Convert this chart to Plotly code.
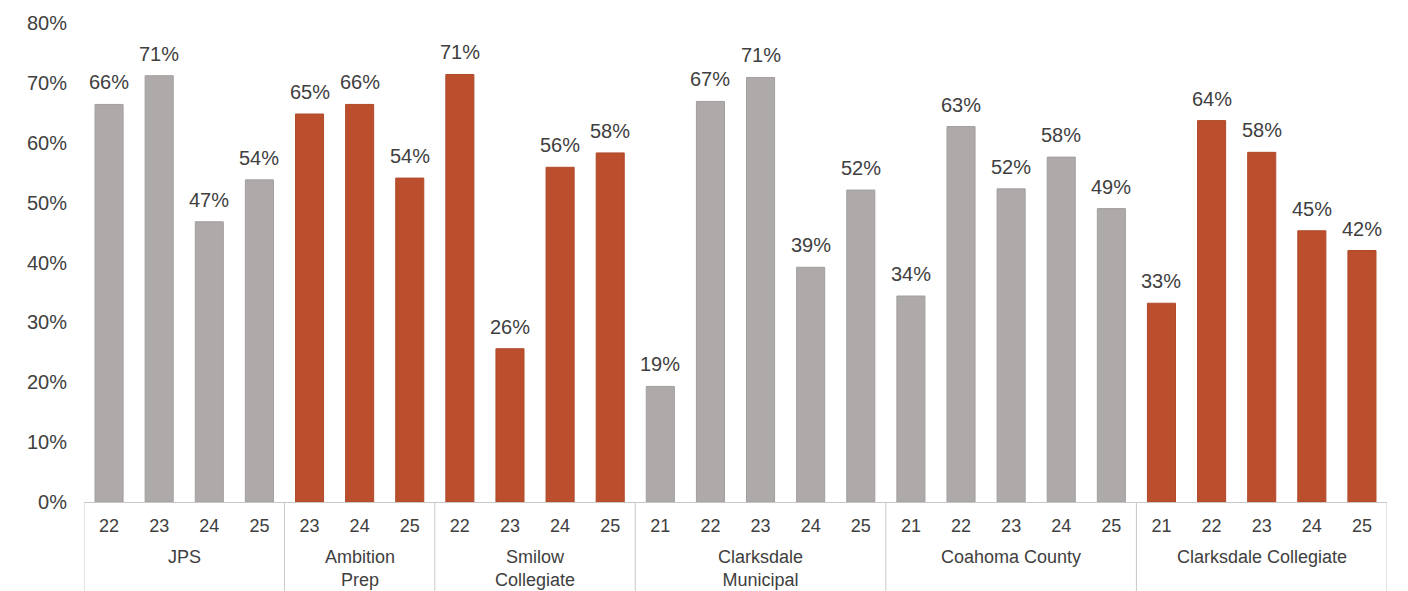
import plotly.graph_objects as go

# ---- data ----
groups = ["JPS", "Ambition<br>Prep", "Smilow<br>Collegiate", "Clarksdale<br>Municipal",
          "Coahoma County", "Clarksdale Collegiate"]
group_years = [
    ["22", "23", "24", "25"],
    ["23", "24", "25"],
    ["22", "23", "24", "25"],
    ["21", "22", "23", "24", "25"],
    ["21", "22", "23", "24", "25"],
    ["21", "22", "23", "24", "25"],
]
group_values = [
    [0.664, 0.712, 0.468, 0.538],
    [0.648, 0.664, 0.541],
    [0.714, 0.256, 0.559, 0.583],
    [0.193, 0.669, 0.709, 0.392, 0.521],
    [0.344, 0.627, 0.523, 0.576, 0.490],
    [0.332, 0.637, 0.584, 0.453, 0.420],
]
group_highlight = [False, True, True, False, False, True]

GRAY = "#AEAAAA"
GRAY_LINE = "#A29E9E"
ORANGE = "#BA4E2D"
ORANGE_LINE = "#B04A2A"
TEXT = "#404040"
AXIS = "#C8C8C8"
FONT = "Liberation Sans, Arial, sans-serif"

# flatten
xs, ys, ticktext, colors, lcolors = [], [], [], [], []
bounds = [-0.5]
i = 0
for g, yrs, vals, hl in zip(groups, group_years, group_values, group_highlight):
    for yr, v in zip(yrs, vals):
        xs.append(i)
        ys.append(v)
        ticktext.append(yr)
        colors.append(ORANGE if hl else GRAY)
        lcolors.append(ORANGE_LINE if hl else GRAY_LINE)
        i += 1
    bounds.append(i - 0.5)

fig = go.Figure()
fig.add_trace(go.Bar(
    x=xs, y=ys,
    marker=dict(color=colors, line=dict(color=lcolors, width=1)),
    hoverinfo="skip",
))

# data labels
for x, y in zip(xs, ys):
    fig.add_annotation(x=x, y=y, xref="x", yref="y", text=f"{round(y*100):.0f}%",
                       showarrow=False, yanchor="bottom", yshift=9,
                       font=dict(family=FONT, size=20, color=TEXT))

# group labels and dividers
for k, g in enumerate(groups):
    center = (bounds[k] + bounds[k + 1]) / 2
    fig.add_annotation(x=center, y=-0.090, xref="x", yref="paper", text=g,
                       showarrow=False, yanchor="top",
                       font=dict(family=FONT, size=18, color=TEXT))
for b in bounds:
    fig.add_shape(type="line", x0=b, x1=b, y0=0, y1=-0.2, xref="x", yref="paper",
                  line=dict(color=AXIS, width=1))

fig.update_layout(
    width=1408, height=591,
    margin=dict(l=84, r=21, t=20, b=89),
    plot_bgcolor="white", paper_bgcolor="white",
    bargap=0.44,
    showlegend=False,
    font=dict(family=FONT, color=TEXT),
)
fig.update_xaxes(
    range=[-0.5, len(xs) - 0.5],
    tickmode="array", tickvals=xs, ticktext=ticktext,
    tickfont=dict(family=FONT, size=18, color=TEXT),
    showgrid=False, zeroline=False,
    showline=True, linecolor=AXIS, linewidth=1,
    ticks="", ticklabelstandoff=7,
)
fig.update_yaxes(
    range=[0, 0.8], dtick=0.1, tickformat=".0%",
    tickfont=dict(family=FONT, size=20, color=TEXT),
    showgrid=False, zeroline=False, showline=False,
    ticks="", ticklabelstandoff=16,
)

fig.write_html("out.html")
